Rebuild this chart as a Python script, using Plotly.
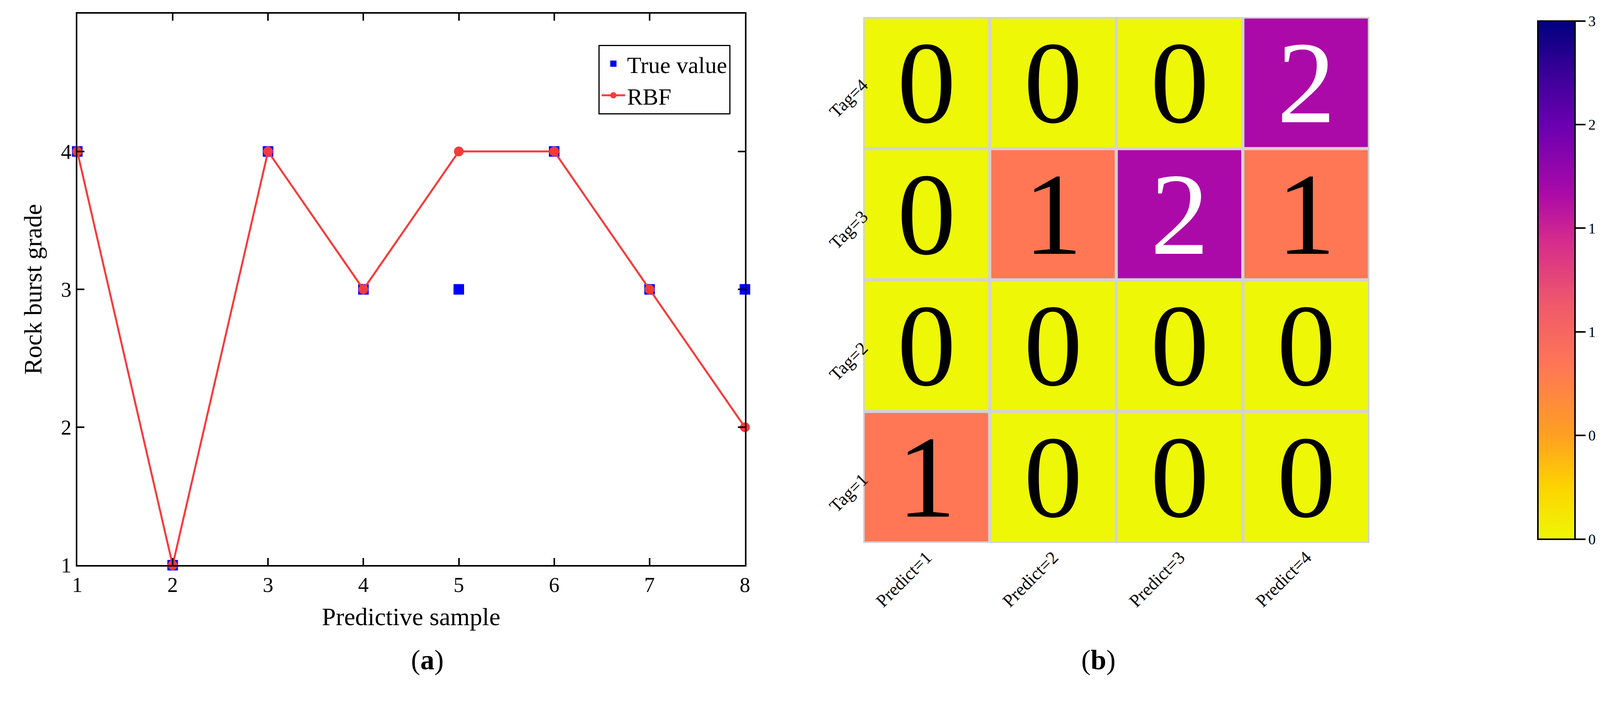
import plotly.graph_objects as go

# Panel (a) data
samples = [1, 2, 3, 4, 5, 6, 7, 8]
true_value = [4, 1, 4, 3, 3, 4, 3, 3]
rbf_value = [4, 1, 4, 3, 4, 4, 3, 2]

# Panel (b) data: confusion matrix, rows Tag=1..4 (bottom to top)
predict_labels = ["Predict=1", "Predict=2", "Predict=3", "Predict=4"]
tag_labels = ["Tag=1", "Tag=2", "Tag=3", "Tag=4"]
counts = [
    [1, 0, 0, 0],
    [0, 0, 0, 0],
    [0, 1, 2, 1],
    [0, 0, 0, 2],
]
cbar_ticks = [0, 0.6, 1.2, 1.8, 2.4, 3.0]
cbar_text = ["0.000", "0.6000", "1.200", "1.800", "2.400", "3.000"]

serif = "Liberation Serif"
scale = [
    [0.0, "#eef705"], [0.1, "#fdd400"], [0.2, "#fea020"], [0.333, "#ff7755"],
    [0.45, "#f05a6a"], [0.58, "#d42a8e"], [0.667, "#ab0aa8"], [0.8, "#6a00b0"],
    [0.9, "#3a0098"], [1.0, "#000080"],
]

fig = go.Figure()

fig.add_trace(go.Scatter(
    x=samples, y=true_value, mode="markers", name="True value",
    marker=dict(symbol="square", size=27, color="#0000ff"),
    xaxis="x", yaxis="y", cliponaxis=False,
))
fig.add_trace(go.Scatter(
    x=samples, y=rbf_value, mode="lines+markers", name="RBF",
    line=dict(color="#f63b3b", width=5),
    marker=dict(symbol="circle", size=25, color="#f63b3b"),
    xaxis="x", yaxis="y", cliponaxis=False,
))

fig.add_trace(go.Heatmap(
    z=counts, x=predict_labels, y=tag_labels, zmin=0, zmax=3,
    colorscale=scale, xgap=8, ygap=8, showscale=True, showlegend=False,
    xaxis="x2", yaxis="y2",
    colorbar=dict(
        x=0.955, xanchor="left", y=0.222, yanchor="bottom", len=0.758,
        lenmode="fraction", thickness=95, outlinecolor="black", outlinewidth=4,
        tickvals=cbar_ticks, ticktext=cbar_text, ticks="outside", ticklen=25,
        tickwidth=4, tickcolor="black", tickfont=dict(family=serif, size=38),
    ),
))

annotations = []
for i, tag in enumerate(tag_labels):
    for j, pred in enumerate(predict_labels):
        v = counts[i][j]
        annotations.append(dict(
            x=pred, y=tag, xref="x2", yref="y2", text=str(v), showarrow=False,
            font=dict(family=serif, size=300, color="white" if v == 2 else "black"),
        ))
annotations += [
    dict(x=0.2515, y=0.03, xref="paper", yref="paper", text="(<b>a</b>)",
         showarrow=False, font=dict(family=serif, size=72, color="black")),
    dict(x=0.6935, y=0.03, xref="paper", yref="paper", text="(<b>b</b>)",
         showarrow=False, font=dict(family=serif, size=72, color="black")),
]

axis_common = dict(showline=True, linecolor="black", linewidth=4, mirror="ticks",
                   ticks="inside", ticklen=18, tickwidth=4, tickcolor="black",
                   showgrid=False, zeroline=False,
                   tickfont=dict(family=serif, size=54, color="black"))

fig.update_layout(
    width=4175, height=1808, margin=dict(l=0, r=0, t=0, b=0),
    paper_bgcolor="white", plot_bgcolor="white",
    font=dict(family=serif, color="black"),
    xaxis=dict(domain=[0.043, 0.461], range=[1, 8], dtick=1,
               title=dict(text="Predictive sample", font=dict(size=64), standoff=30),
               anchor="y", **axis_common),
    yaxis=dict(domain=[0.19, 0.985], range=[1, 5], dtick=1,
               title=dict(text="Rock burst grade", font=dict(size=64), standoff=30),
               anchor="x", **axis_common),
    xaxis2=dict(domain=[0.535, 0.852], anchor="y2", showgrid=False, zeroline=False,
                tickangle=-45, ticks="", showline=False,
                tickfont=dict(family=serif, size=46, color="black")),
    yaxis2=dict(domain=[0.222, 0.98], anchor="x2", showgrid=False, zeroline=False,
                tickangle=-45, ticks="", showline=False,
                tickfont=dict(family=serif, size=46, color="black")),
    legend=dict(x=0.452, xanchor="right", y=0.94, yanchor="top",
                bordercolor="black", borderwidth=3, bgcolor="white",
                font=dict(family=serif, size=60), itemwidth=60),
    annotations=annotations,
)

# grey grid lines between heatmap cells
fig.add_shape(type="rect", xref="x2 domain", yref="y2 domain", x0=0, x1=1, y0=0, y1=1,
              fillcolor="#d3d3d3", line=dict(width=0), layer="below")

fig.write_html("out.html")
